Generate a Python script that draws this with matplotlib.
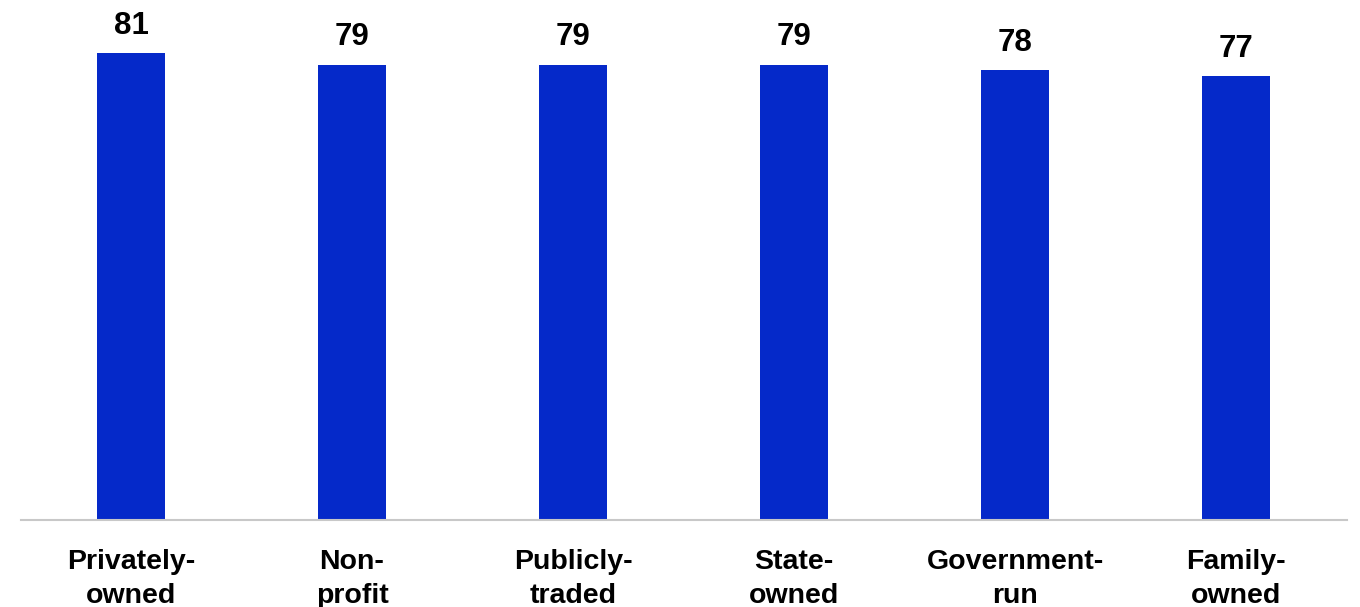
import matplotlib.pyplot as plt

categories = ['Privately-\nowned', 'Non-\nprofit', 'Publicly-\ntraded', 'State-\nowned', 'Government-\nrun', 'Family-\nowned']
values = [81, 79, 79, 79, 78, 77]

plt.rcParams['font.family'] = ['Liberation Sans', 'DejaVu Sans']

fig = plt.figure(figsize=(13.6, 6.07), dpi=100)
ax = fig.add_axes([20.5 / 1360, 87 / 607, 1326 / 1360, 520 / 607])

x = range(len(categories))
bars = ax.bar(x, values, width=0.308, color='#0529C9')
ax.set_xlim(-0.5, 5.5)
ax.set_ylim(0, 520 / 5.765)

# value labels above bars
for b, v in zip(bars, values):
    ax.annotate(str(v), (b.get_x() + b.get_width() / 2, v), xytext=(0, 9),
                textcoords='offset points', ha='center', va='bottom',
                fontsize=22.5, fontweight='bold')

ax.set_xticks(list(x))
ax.set_xticklabels(categories, fontsize=20.5, fontweight='bold', linespacing=1.4)
ax.tick_params(axis='x', length=0, pad=21)
ax.set_yticks([])
for s in ['top', 'right', 'left']:
    ax.spines[s].set_visible(False)
ax.spines['bottom'].set_color('#c8c8c8')
ax.spines['bottom'].set_linewidth(1.5)

fig.savefig('out.png', dpi=100)
